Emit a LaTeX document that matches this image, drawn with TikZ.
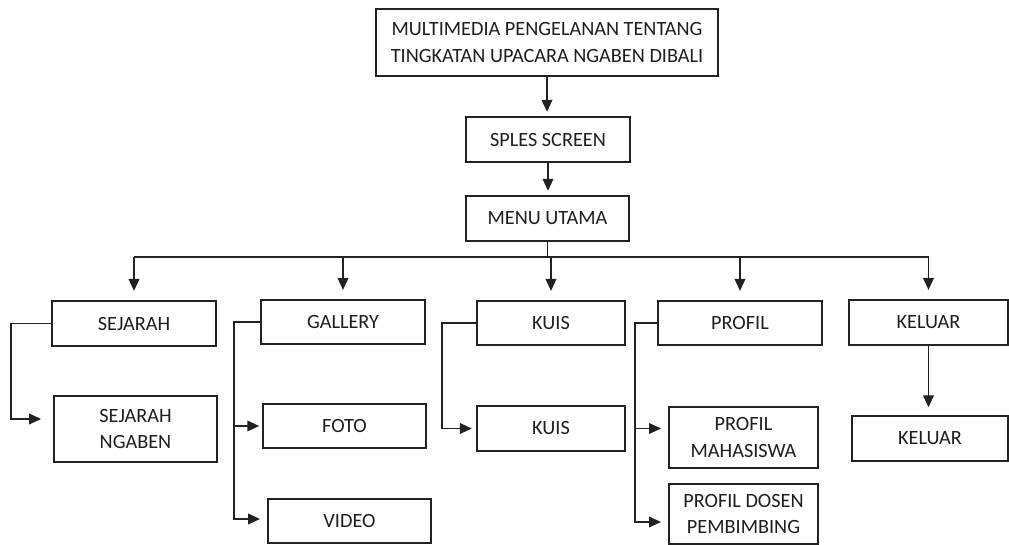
\documentclass[tikz,border=0pt]{standalone}
\usepackage{fontspec}
\setmainfont{Carlito}
\usetikzlibrary{arrows.meta, positioning, calc}
\definecolor{garis}{HTML}{222222}
\definecolor{teks}{HTML}{1E1E1E}
\tikzset{
  every picture/.style={>=Stealth},
  kotak/.style={draw=garis, text=teks, line width=1.3pt, inner sep=0pt, align=center,
                font=\fontsize{14.4}{18.5}\selectfont},
  panah/.style={-{Triangle[width=7.5pt,length=8.5pt]}, line width=1.3pt, garis, shorten >=3pt},
  garisb/.style={line width=1.3pt, garis},
}

\begin{document}
\begin{tikzpicture}[x=0.025cm, y=-0.025cm]
  \useasboundingbox (0,0) rectangle (1009,545);
  % judul dan menu
  \node[kotak, minimum width=8.55cm, minimum height=1.675cm] (judul) at (547,42.5) {MULTIMEDIA PENGELANAN TENTANG\\TINGKATAN UPACARA NGABEN DIBALI};
  \node[kotak, minimum width=4.1cm, minimum height=1.125cm] (sples) at (548,139.5) {SPLES SCREEN};
  \node[kotak, minimum width=4.075cm, minimum height=1.125cm] (menu) at (547.5,218.5) {MENU UTAMA};
  % menu tingkat dua
  \node[kotak, minimum width=4.1cm, minimum height=1.125cm] (sejarah) at (134,323.5) {SEJARAH};
  \node[kotak, minimum width=4.1cm, minimum height=1.1cm] (gallery) at (343,322) {GALLERY};
  \node[kotak, minimum width=3.7cm, minimum height=1.1cm] (kuis) at (551,323) {KUIS};
  \node[kotak, minimum width=4.1cm, minimum height=1.1cm] (profil) at (740,323) {PROFIL};
  \node[kotak, minimum width=3.975cm, minimum height=1.125cm] (keluar) at (928.5,322.5) {KELUAR};
  % sub menu
  \node[kotak, minimum width=4.075cm, minimum height=1.65cm] (ngaben) at (135.5,429) {SEJARAH\\NGABEN};
  \node[kotak, minimum width=4.075cm, minimum height=1.1cm] (foto) at (344.5,426) {FOTO};
  \node[kotak, minimum width=4.075cm, minimum height=1.1cm] (video) at (349.5,521) {VIDEO};
  \node[kotak, minimum width=3.7cm, minimum height=1.125cm] (kuisb) at (551,428.5) {KUIS};
  \node[kotak, minimum width=3.725cm, minimum height=1.525cm] (mahasiswa) at (743.5,437.5) {PROFIL\\MAHASISWA};
  \node[kotak, minimum width=3.725cm, minimum height=1.5cm] (dosen) at (743.5,514) {PROFIL DOSEN\\PEMBIMBING};
  \node[kotak, minimum width=3.9cm, minimum height=1.125cm] (keluarb) at (930,438.5) {KELUAR};

  \draw[panah] (judul.south) -- (judul.south |- sples.north);
  \draw[panah] (sples.south) -- (sples.south |- menu.north);
  \coordinate (bus) at (550,257);
  \draw[garisb] (menu.south) -- (menu.south |- bus);
  \draw[garisb] (sejarah.north |- bus) -- (keluar.north |- bus);
  \foreach \n in {sejarah,gallery,kuis,profil,keluar}
    \draw[panah, shorten >=6.5pt] (\n.north |- bus) -- (\n.north);

  \draw[panah, shorten >=8.5pt] (sejarah.west) -- ++(-40,0) |- ($(ngaben.west)+(0,-10)$);
  \draw[panah, shorten >=2pt] (gallery.west) -- ++(-26,0) |- (foto.west);
  \draw[panah, shorten >=5pt] (gallery.west) -- ++(-26,0) |- ($(video.west)+(0,-2)$);
  \draw[panah] (kuis.west) -- ++(-34,0) |- (kuisb.west);
  \draw[panah, shorten >=5pt] (profil.west) -- ++(-22,0) |- ($(mahasiswa.west)+(0,-9)$);
  \draw[panah, shorten >=5pt] (profil.west) -- ++(-22,0) |- ($(dosen.west)+(0,8)$);
  \draw[panah, shorten >=5.5pt] (keluar.south) -- (keluar.south |- keluarb.north);
\end{tikzpicture}
\end{document}
